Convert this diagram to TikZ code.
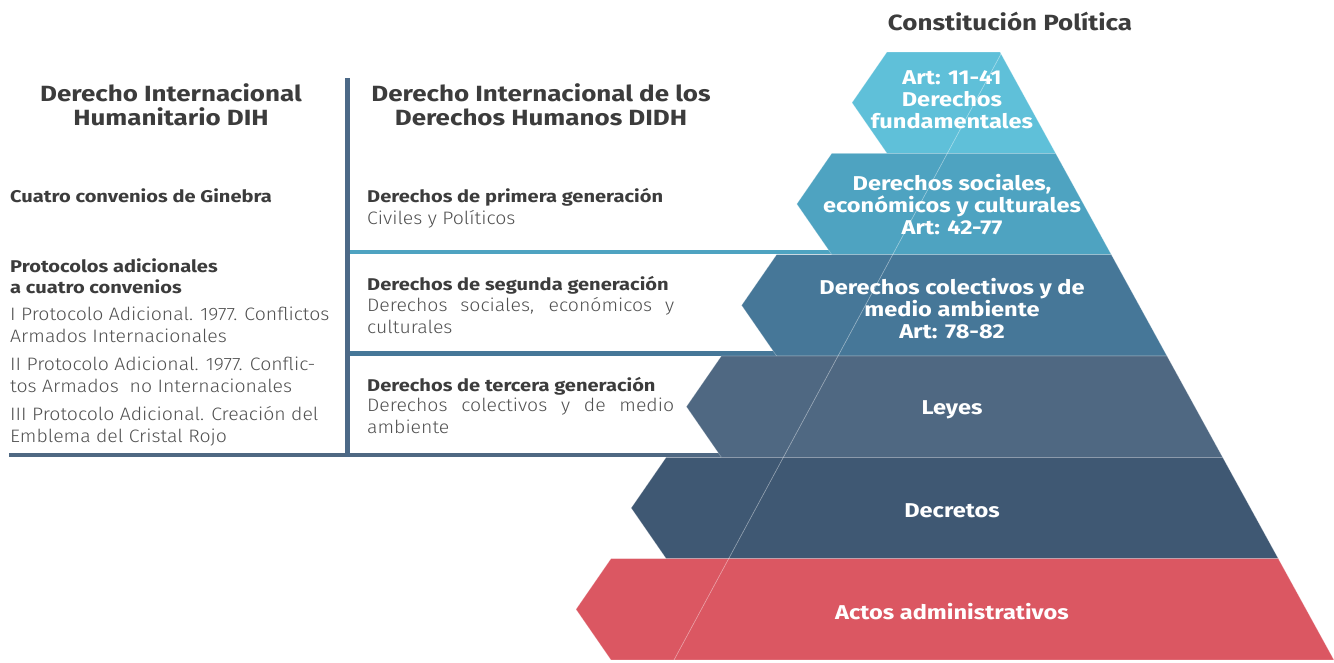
\documentclass[tikz,border=0pt]{standalone}
\usepackage{fontspec}
\setmainfont{Fira Sans}[FakeStretch=1.18]
\newfontfamily\lightfont{Fira Sans Light}[FakeStretch=1.08]
\usepackage{xcolor}
\definecolor{bandA}{HTML}{5FC0D9}
\definecolor{bandB}{HTML}{4EA3C1}
\definecolor{bandC}{HTML}{467798}
\definecolor{bandD}{HTML}{4F6882}
\definecolor{bandE}{HTML}{3F5873}
\definecolor{bandF}{HTML}{DB5762}
\definecolor{ink}{HTML}{3C3C3C}
\definecolor{inklight}{HTML}{505050}
\definecolor{rule}{HTML}{4C6987}

\begin{document}
\begin{tikzpicture}[x=1pt, y=-1pt,
  head/.style={font=\bfseries\fontsize{22}{24}\selectfont, text=ink, align=center, inner sep=0},
  lvl/.style={font=\bfseries\fontsize{20}{22}\selectfont, text=white, align=center, inner sep=0},
  sub/.style={font=\bfseries\fontsize{17}{21}\selectfont, text=ink, align=left, anchor=base west, inner sep=0},
  txt/.style={font=\lightfont\fontsize{18}{21.7}\selectfont, text=inklight, align=left, anchor=base west, inner sep=0}]
\useasboundingbox (0,0) rectangle (1334,662);

% rules of the two columns
\draw[bandB, line width=4.5] (350,252) -- (831,252);
\draw[bandC, line width=4.5] (350,353.3) -- (776,353.3);
\draw[bandD, line width=4.5] (9,455) -- (721,455);
\draw[rule, line width=5] (347,78) -- (347,457);

% pyramid
\foreach \c [count=\i from 0] in {bandA,bandB,bandC,bandD,bandE,bandF}
  \fill[\c, draw=white, draw opacity=.3, line width=.6] ({887-55.2*\i},{52+101.33*\i}) -- ({1000+55.66*\i},{52+101.33*\i})
    -- ({1055.66+55.66*\i},{153.33+101.33*\i}) -- ({887-55.2*\i},{153.33+101.33*\i})
    -- ({852-55.2*\i},{102.67+101.33*\i}) -- cycle;
\draw[white, opacity=.45, line width=.6] (1002,52) -- (674,660);

\node[head] (cp) at (1010,21) {Constitución Política};
\node[lvl] (art1) at (952,100) {Art: 11-41\\Derechos\\fundamentales};
\node[lvl] (art2) at (952,205) {Derechos sociales,\\económicos y culturales\\Art: 42-77};
\node[lvl] (art3) at (952,309) {Derechos colectivos y de\\medio ambiente\\Art: 78-82};
\node[lvl] (leyes) at (952,410) {Leyes};
\node[lvl] (decretos) at (952,511) {Decretos};
\node[lvl] (actos) at (952,612) {Actos administrativos};

% left columns
\node[head] (dih) at (171,105) {Derecho Internacional\\Humanitario DIH};
\node[head] (didh) at (541,105) {Derecho Internacional de los\\Derechos Humanos DIDH};

\node[sub] (ginebra) at (10,202) {Cuatro convenios de Ginebra};
\node[sub] (protocolos) at (10,293) {Protocolos adicionales\\a cuatro convenios};
\node[txt] (p1) at (10,342) {I Protocolo Adicional. 1977. Conflictos\\Armados Internacionales};
\node[txt] (p2) at (10,392) {II Protocolo Adicional. 1977. Conflic-\\tos Armados~~no Internacionales};
\node[txt] (p3) at (10,442) {III Protocolo Adicional. Creación del\\Emblema del Cristal Rojo};

\node[sub] (gen1) at (367,202) {Derechos de primera generación};
\node[txt] (civ) at (367,224) {Civiles y Políticos};
\node[sub] (gen2) at (367,290) {Derechos de segunda generación};
\node[txt] (soc) at (367,333) {\makebox[307pt][s]{Derechos sociales, económicos y}\\culturales};
\node[sub] (gen3) at (367,391) {Derechos de tercera generación};
\node[txt] (col) at (367,433) {\makebox[307pt][s]{Derechos colectivos y de medio}\\ambiente};
\end{tikzpicture}
\end{document}
